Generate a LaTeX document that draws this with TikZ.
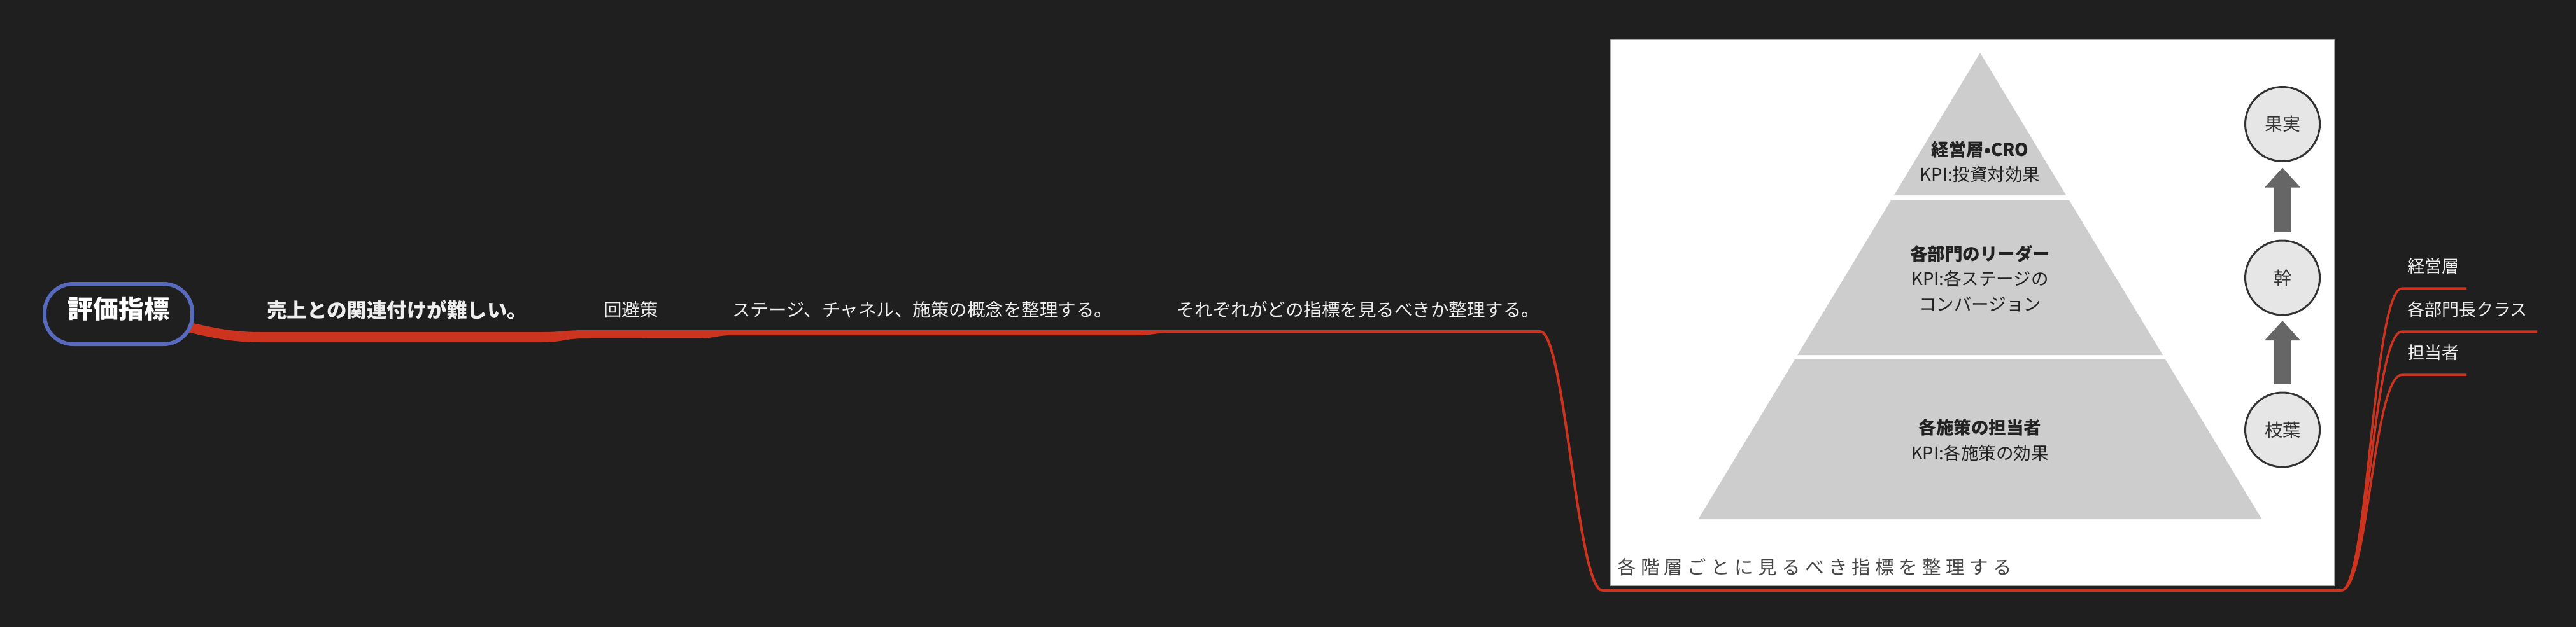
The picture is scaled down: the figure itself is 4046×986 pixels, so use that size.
\documentclass[tikz,border=0pt]{standalone}
\usepackage{fontspec}
\usetikzlibrary{arrows.meta}
\setmainfont{Noto Sans CJK JP}
\newfontfamily\capfont{Noto Sans CJK JP}[LetterSpace=25]
\definecolor{bg}{RGB}{31,31,31}
\definecolor{brc}{RGB}{204,52,31}
\definecolor{rootc}{RGB}{88,106,190}
\definecolor{txtc}{RGB}{238,238,238}
\definecolor{pyrc}{RGB}{205,205,205}
\definecolor{circf}{RGB}{230,230,230}
\definecolor{circd}{RGB}{51,51,51}
\definecolor{arrc}{RGB}{102,102,102}
\definecolor{darkc}{RGB}{34,34,34}
\definecolor{capc}{RGB}{70,70,70}
\begin{document}
\begin{tikzpicture}[x=1pt,y=-1pt,
  br/.style={draw=brc, line cap=butt},
  rootbox/.style={draw=rootc, line width=6pt, fill=bg, rounded corners=45pt, minimum width=232pt, minimum height=95pt, inner sep=0pt},
  roottext/.style={text=white, font=\fontsize{40}{48}\selectfont\bfseries, inner sep=0pt},
  lblA/.style={text=txtc, inner sep=0pt, anchor=west, font=\fontsize{31.5}{36}\selectfont\bfseries},
  lblB/.style={text=txtc, inner sep=0pt, anchor=west, font=\fontsize{28.5}{34}\selectfont},
  lblC/.style={text=txtc, inner sep=0pt, anchor=west, font=\fontsize{27}{32}\selectfont},
  pyr/.style={fill=pyrc},
  pyrtext/.style={text=darkc, inner sep=0pt, align=center, font=\fontsize{27.5}{39.5}\selectfont},
  circ/.style={circle, draw=circd, line width=3pt, fill=circf, minimum size=117pt, inner sep=0pt, outer sep=0pt, text=circd, font=\fontsize{28}{32}\selectfont},
  uparrow/.style={draw=arrc, line width=27pt, -{Triangle[width=54pt,length=31pt]}},
]
\useasboundingbox (0,0) rectangle (4046,986);
\fill[bg] (0,0) rectangle (4046,986);

% image topic
\node[draw=gray!70, line width=1pt, fill=white, minimum width=1137pt, minimum height=858pt, inner sep=0pt] (img) at (3098,491.5) {};
% pyramid
\fill[pyr] (3110,83) -- (3245.2,307) -- (2974.8,307) -- cycle;
\fill[pyr] (2969.9,315) -- (3250.1,315) -- (3396.8,558) -- (2823.2,558) -- cycle;
\fill[pyr] (2819,565) -- (3401,565) -- (3552.5,816) -- (2667.5,816) -- cycle;
\node[pyrtext] (p1) at (3110,254.5) {\bfseries 経営層•CRO\\KPI:投資対効果};
\node[pyrtext] (p2) at (3110,437.5) {\bfseries 各部門のリーダー\\KPI:各ステージの\\コンバージョン};
\node[pyrtext] (p3) at (3110,691.5) {\bfseries 各施策の担当者\\KPI:各施策の効果};
% circles and arrows
\node[circ] (fr) at (3585,195) {果実};
\node[circ] (mk) at (3585,436.5) {幹};
\node[circ] (ed) at (3585,675.5) {枝葉};
\draw[uparrow, shorten <=13pt, shorten >=10pt] (mk.north) -- (fr.south);
\draw[uparrow, shorten <=13pt, shorten >=9pt] (ed.north) -- (mk.south);
\node[text=capc, inner sep=0pt, anchor=west, font=\capfont\fontsize{29.5}{34}\selectfont] (cap) at (2540,891) {各階層ごとに見るべき指標を整理する};

% branch coordinates
\coordinate (d2) at (2418,521);
\coordinate (d3) at (2517,928);
\coordinate (d4) at (3677,928);
\coordinate (k1s) at (3773,453);
\coordinate (k1e) at (3874,453);
\coordinate (k2s) at (3773,521);
\coordinate (k2e) at (3985,521);
\coordinate (k3s) at (3773,589);
\coordinate (k3e) at (3874,589);

% tapered main branch: root -> t1 -> t2 -> t3 -> t4
\fill[brc] (268,500) .. controls (330,514) and (360,522) .. (410,522) -- (850,522)
  .. controls (885,522) and (885,519) .. (920,519) -- (2420,519) -- (2420,523)
  -- (1843,523) .. controls (1813,523) and (1813,527) .. (1783,527) -- (1150,527)
  .. controls (1125,527) and (1125,531.5) .. (1100,531.5) -- (920,532)
  .. controls (885,532) and (885,538) .. (850,538) -- (410,538)
  .. controls (360,538) and (330,530) .. (268,516) -- cycle;
% t4 -> image -> children
\draw[br, line width=4pt] (d2) -- ++(1,0) .. controls (2458,521) and (2477,928) .. (d3) -- (d4);
\draw[br, line width=3.5pt] (d4) .. controls (3720,928) and (3727,453) .. (k1s) -- (k1e);
\draw[br, line width=3.5pt] (d4) .. controls (3720,928) and (3727,521) .. (k2s) -- (k2e);
\draw[br, line width=3.5pt] (d4) .. controls (3720,928) and (3727,589) .. (k3s) -- (k3e);

% root
\node[rootbox] (root) at (186,493.5) {};
\node[roottext] (rootlbl) at ([yshift=8pt]root.center) {評価指標};

% labels
\node[lblA] (t1) at (419,487) {売上との関連付けが難しい。};
\node[lblB] (t2) at (948,487) {回避策};
\node[lblB] (t3) at (1150,487) {ステージ、チャネル、施策の概念を整理する。};
\node[lblB] (t4) at (1848,487) {それぞれがどの指標を見るべきか整理する。};
\node[lblC] (k1) at (3781,418) {経営層};
\node[lblC] (k2) at (3781,486) {各部門長クラス};
\node[lblC] (k3) at (3781,554) {担当者};
\end{tikzpicture}
\end{document}
